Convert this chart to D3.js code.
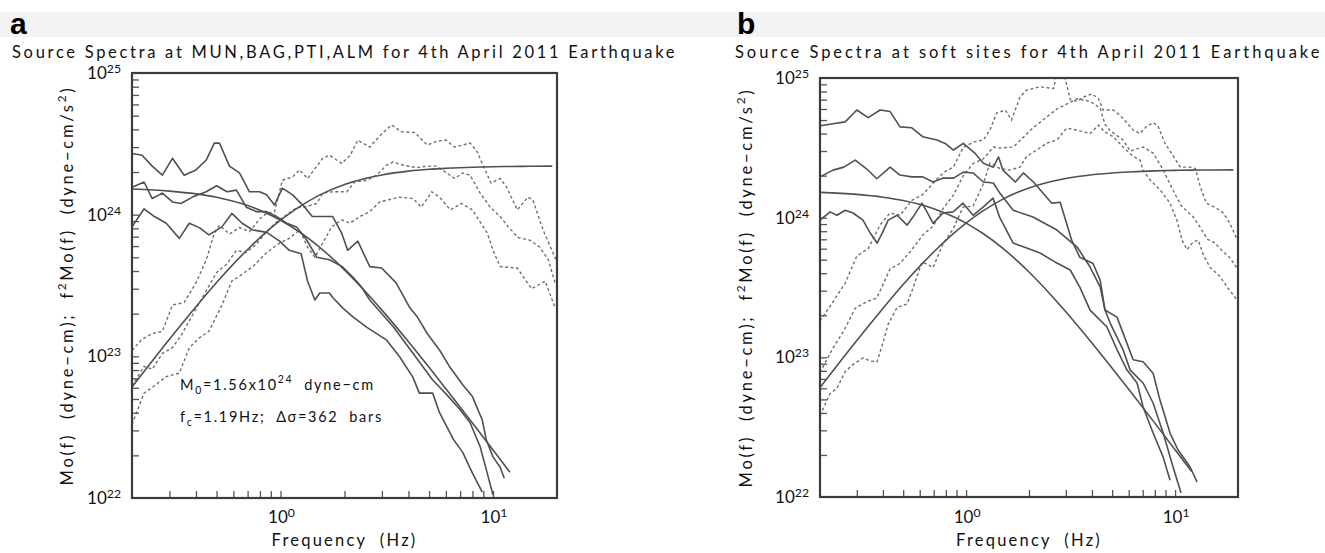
<!DOCTYPE html>
<html>
<head>
<meta charset="utf-8">
<script src="https://cdnjs.cloudflare.com/ajax/libs/d3/7.8.5/d3.min.js"></script>
<style>
  body { margin: 0; background: #fff; }
  svg { display: block; font-family: "Lato", "DejaVu Sans", sans-serif; }
</style>
</head>
<body>
<svg id="chart" width="1325" height="553"></svg>
<script>
// axis ranges (Hz, dyne-cm)
const freqDomain = [0.2, 20];
const momentDomain = [1e22, 1e25];

// Brune model, M0 = 1.56e24 dyne-cm, fc = 1.19 Hz (same in both panels)
const modelMo = [[0.2,1.517e24],[0.3,1.467e24],[0.4,1.402e24],[0.5,1.326e24],[0.7,1.159e24],[0.85,1.033e24],[1.0,9.14e23],[1.2,7.73e23],[1.5,6.03e23],[2,4.08e23],[2.5,2.88e23],[3,2.12e23],[4,1.268e23],[5,8.36e22],[6,5.9e22],[8,3.38e22],[10,2.18e22],[12,1.52e22]];
const modelF2Mo = [[0.2,6.07e22],[0.3,1.32e23],[0.4,2.24e23],[0.5,3.32e23],[0.7,5.68e23],[0.85,7.46e23],[1.0,9.14e23],[1.2,1.113e24],[1.5,1.357e24],[2,1.632e24],[2.5,1.8e24],[3,1.908e24],[4,2.029e24],[5,2.09e24],[6,2.124e24],[8,2.163e24],[10,2.18e24],[12,2.19e24],[15,2.196e24],[19,2.2e24]];

// panel a: Mo(f) spectra
const aMo1 = [[0.2,2.7e24],[0.223,2.63e24],[0.249,2.2e24],[0.278,1.9e24],[0.31,2.5e24],[0.352,1.9e24],[0.4,2.07e24],[0.447,2.43e24],[0.488,3.2e24],[0.516,3.2e24],[0.575,2.2e24],[0.641,1.97e24],[0.714,1.45e24],[0.796,1.45e24],[0.86,1.38e24],[0.937,1.17e24],[1.02,1.54e24],[1.14,1.38e24],[1.3,1.13e24],[1.41,9.7e23],[1.76,9.7e23],[1.94,7.4e23],[2.07,5.6e23],[2.31,6.5e23],[2.63,4.3e23],[2.99,4.2e23],[3.5,3.3e23],[4.06,2.2e23],[4.4,1.9e23],[4.9,1.45e23],[5.62,1.1e23],[6.26,8.4e22],[7.2,6.3e22],[8.0,5.2e22],[8.9,3.55e22],[9.3,2.57e22],[10,1.95e22],[10.8,1.65e22],[11.3,1.38e22]];
const aMo2 = [[0.2,1.56e24],[0.228,1.7e24],[0.249,1.3e24],[0.278,1.42e24],[0.31,1.23e24],[0.34,1.2e24],[0.385,1.33e24],[0.447,1.45e24],[0.5,1.6e24],[0.56,1.45e24],[0.62,1.49e24],[0.69,1.13e24],[0.77,1.05e24],[0.86,1.05e24],[0.96,9.7e23],[1.07,8.7e23],[1.19,8.2e23],[1.33,6.6e23],[1.48,5.0e23],[1.7,4.8e23],[1.95,4.3e23],[2.2,3.6e23],[2.4,3.1e23],[2.63,2.5e23],[3.4,1.61e23],[4.2,1.05e23],[5.2,6.8e22],[6.1,5.3e22],[7.0,4.2e22],[7.8,3.4e22],[8.7,2.3e22],[9.3,1.58e22],[10,1.05e22]];
const aMo3 = [[0.2,8.2e23],[0.228,1.1e24],[0.255,9.7e23],[0.29,8.7e23],[0.334,6.8e23],[0.372,8.7e23],[0.415,8.1e23],[0.46,7.2e23],[0.53,8.2e23],[0.59,1.02e24],[0.66,8.7e23],[0.74,7.8e23],[0.86,7.5e23],[0.99,6.5e23],[1.1,5.6e23],[1.25,5.3e23],[1.34,3.4e23],[1.45,2.5e23],[1.53,2.8e23],[1.7,2.8e23],[1.76,2.6e23],[1.96,2.2e23],[2.19,1.9e23],[2.55,1.6e23],[3.16,1.3e23],[3.64,9.9e22],[4.2,7.1e22],[4.5,5.5e22],[5.2,5.5e22],[5.6,4.0e22],[6.5,2.6e22],[7.2,2.1e22],[8.0,1.5e22],[8.9,1.1e22]];

// panel a: f^2 Mo(f) spectra
const aF2Mo1 = [[0.2,1.1e23],[0.223,1.32e23],[0.249,1.45e23],[0.278,1.5e23],[0.31,2.3e23],[0.352,2.4e23],[0.4,3.3e23],[0.447,4.8e23],[0.488,7.4e23],[0.516,8.4e23],[0.575,7.3e23],[0.641,8.1e23],[0.714,7.6e23],[0.796,9.3e23],[0.86,1.02e24],[0.937,1.05e24],[1.02,1.75e24],[1.14,1.85e24],[1.23,2.07e24],[1.34,1.8e24],[1.58,2.5e24],[1.7,2.63e24],[1.94,2.3e24],[2.12,2.6e24],[2.31,3.36e24],[2.63,3.0e24],[2.93,3.6e24],[3.33,4.3e24],[3.7,3.85e24],[4.28,3.8e24],[4.9,3.1e24],[5.45,3.3e24],[6.0,3.36e24],[6.6,3.0e24],[7.8,3.2e24],[8.4,2.8e24],[9.0,2.2e24],[9.8,1.67e24],[10.8,1.8e24],[11.6,1.56e24],[13,1.08e24],[14.6,1.33e24],[15.4,1.27e24],[17.2,7.8e23],[19.8,4.8e23]];
const aF2Mo2 = [[0.2,6.2e22],[0.228,8.5e22],[0.249,8.1e22],[0.278,1.05e23],[0.31,1.15e23],[0.34,1.4e23],[0.385,1.95e23],[0.447,2.9e23],[0.5,3.9e23],[0.56,4.5e23],[0.62,5.6e23],[0.69,5.4e23],[0.77,6.2e23],[0.86,7.6e23],[0.96,8.9e23],[1.07,1.0e24],[1.19,1.12e24],[1.3,1.13e24],[1.48,1.2e24],[1.58,1.42e24],[1.76,1.45e24],[2.05,1.45e24],[2.23,1.7e24],[2.55,1.75e24],[2.83,1.9e24],[3.16,2.24e24],[3.38,2.35e24],[3.76,2.24e24],[4.37,2.15e24],[4.88,2.2e24],[5.4,2.2e24],[6.05,1.97e24],[6.6,1.8e24],[7.2,1.97e24],[7.8,1.9e24],[8.7,1.42e24],[9.7,1.13e24],[10.8,9.7e23],[11.8,8.2e23],[13.1,6.9e23],[14.9,6.6e23],[16.6,5.9e23],[18.2,4.8e23],[19.6,3.3e23]];
const aF2Mo3 = [[0.2,3.3e22],[0.228,5.5e22],[0.255,6.2e22],[0.29,7.2e22],[0.334,7.6e22],[0.372,1.15e23],[0.415,1.35e23],[0.46,1.5e23],[0.53,2.3e23],[0.59,3.4e23],[0.66,3.8e23],[0.74,4.3e23],[0.86,5.4e23],[0.99,6.3e23],[1.1,6.8e23],[1.23,7.8e23],[1.34,5.9e23],[1.45,5.0e23],[1.58,6.3e23],[1.74,8.2e23],[1.94,9.2e23],[2.12,8.7e23],[2.36,9.7e23],[2.63,1.05e24],[2.93,1.23e24],[3.2,1.27e24],[3.64,1.33e24],[4.2,1.3e24],[4.6,1.13e24],[5.15,1.45e24],[5.6,1.33e24],[6.3,1.08e24],[7.1,1.2e24],[8.0,1.08e24],[9.4,7.4e23],[10,5.6e23],[10.8,4.3e23],[13,4.2e23],[15.2,3.0e23],[17.6,3.4e23],[19.6,2.2e23]];

// panel b: Mo(f) spectra
const bMo1 = [[0.2,4.55e24],[0.231,4.7e24],[0.264,4.85e24],[0.3,5.9e24],[0.34,5.2e24],[0.388,5.9e24],[0.433,5.75e24],[0.483,4.47e24],[0.55,4.4e24],[0.62,3.8e24],[0.725,3.6e24],[0.794,3.4e24],[0.87,3.05e24],[0.97,3.4e24],[1.1,2.9e24],[1.21,2.45e24],[1.35,2.3e24],[1.43,2.72e24],[1.5,2.19e24],[1.72,1.8e24],[1.88,2.09e24],[2.1,1.8e24],[2.57,1.27e24],[2.82,1.29e24],[3.2,6.9e23],[3.5,5.2e23],[4.05,4.7e23],[4.38,3.57e23],[4.62,2.18e23],[5.27,1.94e23],[5.64,1.49e23],[6.3,9.6e22],[7.03,9.3e22],[7.85,7.7e22],[8.48,4.9e22],[9.46,2.87e22],[10.33,2.17e22],[11.8,1.64e22],[12.74,1.28e22]];
const bMo2 = [[0.2,1.96e24],[0.231,2.19e24],[0.26,2.3e24],[0.295,2.58e24],[0.335,2.23e24],[0.374,1.9e24],[0.433,2.3e24],[0.483,2.02e24],[0.55,1.96e24],[0.62,1.96e24],[0.695,1.8e24],[0.776,1.92e24],[0.87,1.92e24],[0.97,2.12e24],[1.08,2.09e24],[1.21,1.8e24],[1.35,1.77e24],[1.45,1.5e24],[1.68,1.13e24],[2.09,1.01e24],[2.72,8.15e23],[3.4,6.16e23],[3.92,4.43e23],[4.38,3.2e23],[4.62,2.18e23],[4.89,1.76e23],[5.64,1.13e23],[6.1,8.1e22],[7.03,6.55e22],[7.85,4.71e22],[8.77,2.87e22],[9.78,1.64e22],[10.68,1.07e22]];
const bMo3 = [[0.2,9.6e23],[0.2235,1.1e24],[0.241,1.04e24],[0.264,1.13e24],[0.288,1.08e24],[0.321,9.6e23],[0.348,7.76e23],[0.375,6.58e23],[0.397,7.76e23],[0.424,9.6e23],[0.468,1.04e24],[0.522,8.85e23],[0.557,1.01e24],[0.615,1.27e24],[0.65,1.1e24],[0.695,9.1e23],[0.776,1.08e24],[0.867,1.1e24],[0.967,1.27e24],[1.08,1.04e24],[1.206,1.19e24],[1.346,1.38e24],[1.45,1.0e24],[1.68,6.58e23],[1.95,6.06e23],[2.26,5.58e23],[2.72,4.73e23],[3.15,4.22e23],[3.5,3.18e23],[3.92,2.18e23],[4.72,1.65e23],[5.28,1.13e23],[5.89,8.1e22],[6.58,6.55e22],[7.03,4.41e22],[7.85,2.87e22],[8.77,1.93e22],[9.46,1.32e22]];

// panel b: f^2 Mo(f) spectra
const bF2Mo1 = [[0.2,1.82e23],[0.231,2.5e23],[0.264,3.4e23],[0.3,5.3e23],[0.34,6.0e23],[0.388,8.9e23],[0.433,1.08e24],[0.483,1.04e24],[0.55,1.33e24],[0.62,1.46e24],[0.725,1.89e24],[0.794,2.14e24],[0.87,2.31e24],[0.97,3.2e24],[1.1,3.5e24],[1.21,3.6e24],[1.3,4.24e24],[1.4,5.6e24],[1.54,5.9e24],[1.65,5.0e24],[1.81,7.3e24],[1.95,8.2e24],[2.26,8.65e24],[2.62,8.4e24],[2.8,1.3e25],[3.01,9.3e24],[3.15,7.0e24],[3.39,6.8e24],[3.64,7.3e24],[4.0,7.7e24],[4.3,7.1e24],[4.53,5.9e24],[5.06,5.9e24],[5.45,5.4e24],[5.86,4.8e24],[6.3,4.24e24],[6.8,4.0e24],[7.3,4.5e24],[7.87,4.8e24],[8.3,4.5e24],[8.95,3.4e24],[9.6,2.9e24],[10.6,2.3e24],[11.8,2.3e24],[12.5,2.25e24],[13.2,1.67e24],[14.1,1.27e24],[15.8,1.17e24],[17,1.08e24],[18.3,9.1e23],[19.7,7.1e23]];
const bF2Mo2 = [[0.2,7.8e22],[0.231,1.17e23],[0.26,1.55e23],[0.295,2.25e23],[0.335,2.5e23],[0.374,2.66e23],[0.433,4.3e23],[0.483,4.7e23],[0.55,5.9e23],[0.62,7.5e23],[0.695,8.7e23],[0.776,1.16e24],[0.87,1.45e24],[0.97,2.0e24],[1.08,2.44e24],[1.21,2.64e24],[1.35,3.2e24],[1.45,3.15e24],[1.68,3.2e24],[2.09,4.4e24],[2.72,6.0e24],[3.4,7.1e24],[3.92,6.8e24],[4.38,6.1e24],[4.62,4.65e24],[4.89,4.2e24],[5.64,3.6e24],[6.1,3.0e24],[7.03,3.2e24],[7.85,2.9e24],[8.77,2.2e24],[9.78,1.57e24],[10.68,1.22e24],[11.5,1.1e24],[12.3,1.0e24],[13.2,8.5e23],[14.3,7.0e23],[15.5,6.6e23],[16.8,5.8e23],[18.2,5.2e23],[19.7,4.4e23]];
const bF2Mo3 = [[0.2,3.84e22],[0.2235,5.5e22],[0.241,6.0e22],[0.264,7.9e22],[0.288,8.9e22],[0.321,9.9e22],[0.348,9.4e22],[0.375,9.3e22],[0.397,1.22e23],[0.424,1.73e23],[0.468,2.28e23],[0.522,2.41e23],[0.557,3.13e23],[0.615,4.8e23],[0.65,4.65e23],[0.695,4.4e23],[0.776,6.5e23],[0.867,8.3e23],[0.967,1.19e24],[1.08,1.21e24],[1.206,1.73e24],[1.3,2.46e24],[1.45,2.25e24],[1.62,2.19e24],[1.81,2.3e24],[1.95,2.75e24],[2.18,3.05e24],[2.43,3.42e24],[2.72,3.6e24],[3.03,4.38e24],[3.39,4.24e24],[3.92,4.0e24],[4.3,4.6e24],[4.62,4.1e24],[5.06,3.8e24],[5.64,3.2e24],[6.3,2.75e24],[6.8,2.58e24],[7.03,2.19e24],[7.6,1.86e24],[8.48,1.58e24],[9.46,1.27e24],[10.2,9.6e23],[10.8,6.9e23],[11.4,5.9e23],[12.2,6.7e23],[12.9,6.9e23],[13.6,5.5e23],[14.7,4.4e23],[16.4,3.8e23],[17.7,3.2e23],[19.7,2.6e23]];

const decadeLabelsY = [22, 23, 24, 25];
const decadeLabelsX = [0, 1];

const panels = [
  {
    key: "a",
    title: "Source Spectra at MUN,BAG,PTI,ALM for 4th April 2011 Earthquake",
    solid: [aMo1, aMo2, aMo3],
    dashed: [aF2Mo1, aF2Mo2, aF2Mo3],
    note: true,
    box: { x0: 132, y0: 73, x1: 557, y1: 498 },
    letterX: 10, titleX: 12, titleW: 665, yTitleX: 67
  },
  {
    key: "b",
    title: "Source Spectra at soft sites for 4th April 2011 Earthquake",
    solid: [bMo1, bMo2, bMo3],
    dashed: [bF2Mo1, bF2Mo2, bF2Mo3],
    note: false,
    box: { x0: 820, y0: 78, x1: 1238, y1: 497 },
    letterX: 737, titleX: 735, titleW: 587, yTitleX: 746
  }
];

const svg = d3.select("#chart");
const defs = svg.append("defs");

// light band behind the panel letters
svg.append("rect")
  .attr("x", 0).attr("y", 12)
  .attr("width", 1325).attr("height", 25)
  .attr("fill", "#f3f3f3");

// add text made of normal / sup / sub parts
function richText(sel, parts, size, supRise = 0.45) {
  let shift = 0;
  parts.forEach(([str, kind]) => {
    const target = kind === "sup" ? -supRise * size : kind === "sub" ? 0.3 * size : 0;
    sel.append("tspan")
      .attr("dy", target - shift)
      .attr("font-size", kind ? size * 0.72 : size)
      .text(str);
    shift = target;
  });
}

// stretch text to a measured width with letter-spacing
function fitWidth(sel, target) {
  const w = sel.node().getComputedTextLength();
  const n = sel.text().length;
  sel.attr("letter-spacing", ((target - w) / n).toFixed(2));
}

panels.forEach((p) => {
  const { x0, y0, x1, y1 } = p.box;
  const x = d3.scaleLog().domain(freqDomain).range([x0, x1]);
  const y = d3.scaleLog().domain(momentDomain).range([y1, y0]);
  const g = svg.append("g").attr("class", "panel-" + p.key);

  // panel letter
  g.append("text")
    .attr("x", p.letterX).attr("y", 34)
    .attr("font-family", "Liberation Sans, Arial, sans-serif")
    .attr("font-weight", "bold")
    .attr("font-size", 30)
    .attr("fill", "#000")
    .text(p.key);

  // title
  const title = g.append("text")
    .attr("x", p.titleX).attr("y", 58)
    .attr("font-size", 16.5)
    .attr("fill", "#111")
    .style("white-space", "pre")
    .text(p.title);
  fitWidth(title, p.titleW);

  defs.append("clipPath").attr("id", "clip-" + p.key)
    .append("rect")
    .attr("x", x0).attr("y", y0)
    .attr("width", x1 - x0).attr("height", y1 - y0);

  // ticks (inside the box)
  const xt = x.ticks().filter((v) => v > 0.201 && v < 19.9);
  const yt = y.ticks().filter((v) => v > 1.01e22 && v < 0.99e25);
  g.append("g")
    .attr("transform", `translate(0,${y1})`)
    .call(d3.axisBottom(x).tickValues(xt).tickSize(-7).tickFormat(""))
    .call((s) => s.select(".domain").remove());
  g.append("g")
    .attr("transform", `translate(${x0},0)`)
    .call(d3.axisLeft(y).tickValues(yt).tickSize(-7).tickFormat(""))
    .call((s) => s.select(".domain").remove());
  g.selectAll(".tick line").attr("stroke", "#555").attr("stroke-width", 1.3);

  // tick labels
  decadeLabelsY.forEach((e) => {
    const t = g.append("text")
      .attr("x", x0 - 11).attr("y", y(Math.pow(10, e)) + 6)
      .attr("text-anchor", "end")
      .attr("fill", "#111");
    richText(t, [["10"], [String(e), "sup"]], 17, 0.36);
  });
  decadeLabelsX.forEach((e) => {
    const t = g.append("text")
      .attr("x", x(Math.pow(10, e)) + 1).attr("y", 523)
      .attr("text-anchor", "middle")
      .attr("fill", "#111");
    richText(t, [["10"], [String(e), "sup"]], 17, 0.36);
  });

  // axis titles
  const xTitle = g.append("text")
    .attr("x", (x0 + x1) / 2).attr("y", 546)
    .attr("text-anchor", "middle")
    .attr("font-size", 16.5)
    .attr("fill", "#111")
    .style("white-space", "pre")
    .text("Frequency  (Hz)");
  fitWidth(xTitle, 146);

  const yTitle = g.append("text")
    .attr("transform", `translate(${p.yTitleX + 6},${(y0 + y1) / 2}) rotate(-90)`)
    .attr("text-anchor", "middle")
    .attr("fill", "#111")
    .style("white-space", "pre");
  richText(yTitle, [["Mo(f)  (dyne\u2212cm);  f"], ["2", "sup"], ["Mo(f)  (dyne\u2212cm/s"], ["2", "sup"], [")"]], 16.5);
  fitWidth(yTitle, 400);

  // spectra
  const plot = g.append("g").attr("clip-path", `url(#clip-${p.key})`);
  const jag = d3.line().x((d) => x(d[0])).y((d) => y(d[1]));
  const smooth = d3.line().x((d) => x(d[0])).y((d) => y(d[1])).curve(d3.curveMonotoneX);

  plot.selectAll("path.dashed")
    .data(p.dashed)
    .enter()
    .append("path")
    .attr("class", "dashed")
    .attr("d", jag)
    .attr("fill", "none")
    .attr("stroke", "#707070")
    .attr("stroke-width", 1.4)
    .attr("stroke-dasharray", "3,2.5");

  plot.selectAll("path.solid")
    .data(p.solid)
    .enter()
    .append("path")
    .attr("class", "solid")
    .attr("d", jag)
    .attr("fill", "none")
    .attr("stroke", "#505050")
    .attr("stroke-width", 1.6)
    .attr("stroke-linejoin", "round");

  plot.selectAll("path.model")
    .data([modelMo, modelF2Mo])
    .enter()
    .append("path")
    .attr("class", "model")
    .attr("d", smooth)
    .attr("fill", "none")
    .attr("stroke", "#505050")
    .attr("stroke-width", 1.6);

  // frame
  g.append("rect")
    .attr("x", x0).attr("y", y0)
    .attr("width", x1 - x0).attr("height", y1 - y0)
    .attr("fill", "none")
    .attr("stroke", "#3c3c3c")
    .attr("stroke-width", 2.2);

  // source parameters (panel a only)
  if (p.note) {
    const n1 = g.append("text").attr("x", 180).attr("y", 390).attr("fill", "#111").style("white-space", "pre");
    richText(n1, [["M"], ["0", "sub"], ["=1.56x10"], ["24", "sup"], ["  dyne\u2212cm"]], 14.5);
    fitWidth(n1, 195);
    const n2 = g.append("text").attr("x", 180).attr("y", 422).attr("fill", "#111").style("white-space", "pre");
    richText(n2, [["f"], ["c", "sub"], ["=1.19Hz;  \u0394\u03c3=362  bars"]], 14.5);
    fitWidth(n2, 203);
  }
});
</script>
</body>
</html>
